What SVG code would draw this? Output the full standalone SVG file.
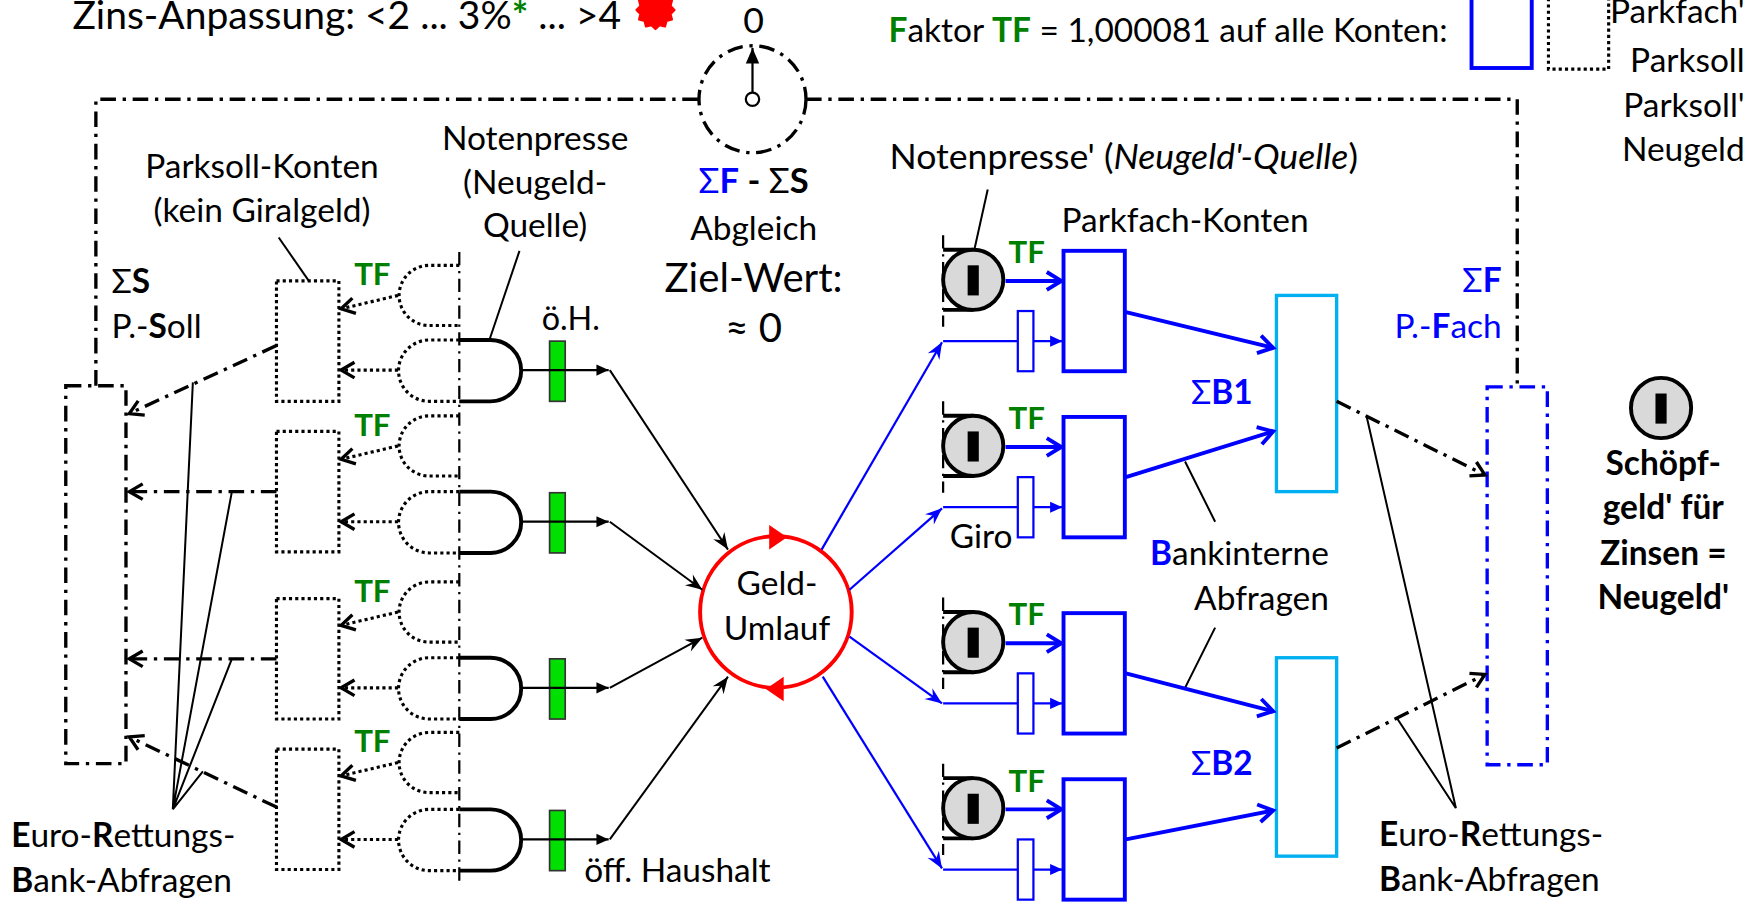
<svg xmlns="http://www.w3.org/2000/svg" width="1748" height="907" viewBox="0 0 1748 907">
<style>
text{font-family:Lato,"Liberation Sans","DejaVu Sans",sans-serif;font-size:30px;fill:#000}
.c{text-anchor:middle}
.e{text-anchor:end}
.b{font-weight:bold}
.g{fill:#008000;font-weight:bold}
.tf{fill:#008000;font-weight:bold;font-size:28px;text-anchor:middle}
.bl{fill:#0000ff}
.dd{fill:none;stroke:#000;stroke-width:3;stroke-dasharray:14 6 3 6}
.ddb{fill:none;stroke:#0000ff;stroke-width:3;stroke-dasharray:14 6 3 6}
.dv{fill:none;stroke:#000;stroke-width:2;stroke-dasharray:12 5 2 5}
.dot{fill:none;stroke:#000;stroke-width:2.8;stroke-dasharray:2.8 2.8}
.sd{fill:none;stroke:#000;stroke-width:3.5}
.thin{fill:none;stroke:#000;stroke-width:1.8}
.bthin{fill:none;stroke:#0000ff;stroke-width:2}
.bthick{fill:none;stroke:#0000ff;stroke-width:3.5}
.coin{fill:#d9d9d9;stroke:#000;stroke-width:3.5}
.grn{fill:#00e000;stroke:#333;stroke-width:1.5}
.pf{fill:#fff;stroke:#0000ff;stroke-width:3.5}
.nr{fill:#fff;stroke:#0000ff;stroke-width:2}
.sb{fill:#fff;stroke:#00b0f0;stroke-width:3}
</style>
<defs>
<marker id="vk" markerUnits="userSpaceOnUse" orient="auto" overflow="visible" markerWidth="1" markerHeight="1"><path d="M-12,-7 L0,0 L-12,7" fill="none" stroke="#000" stroke-width="3"/></marker>
<marker id="vb" markerUnits="userSpaceOnUse" orient="auto" overflow="visible" markerWidth="1" markerHeight="1"><path d="M-13,-8 L0,0 L-13,8" fill="none" stroke="#0000ff" stroke-width="3.5"/></marker>
<marker id="ab" markerUnits="userSpaceOnUse" orient="auto" overflow="visible" markerWidth="1" markerHeight="1"><path d="M-15,-6 L0,0 L-15,6 L-10,0 z" fill="#0000ff"/></marker>
<marker id="ak" markerUnits="userSpaceOnUse" orient="auto" overflow="visible" markerWidth="1" markerHeight="1"><path d="M-15,-6 L0,0 L-15,6 L-10,0 z" fill="#000"/></marker>
<marker id="tk" markerUnits="userSpaceOnUse" orient="auto" overflow="visible" markerWidth="1" markerHeight="1"><path d="M-11,-5 L0,0 L-11,5 z" fill="#000"/></marker>
<marker id="tb" markerUnits="userSpaceOnUse" orient="auto" overflow="visible" markerWidth="1" markerHeight="1"><path d="M-11,-5 L0,0 L-11,5 z" fill="#0000ff"/></marker>
<marker id="tg" markerUnits="userSpaceOnUse" orient="auto" overflow="visible" markerWidth="1" markerHeight="1"><path d="M-14,-6 L0,0 L-14,6 z" fill="#000"/></marker>
</defs>
<rect width="1748" height="907" fill="#fff"/>
<g transform="scale(1.1148)">

<g id="header">
<text x="65" y="26" style="font-size:35px">Zins-Anpassung: &lt;2 ... 3%<tspan class="g">*</tspan> ... &gt;4</text>
<polygon transform="translate(588,9)" fill="#ff0000" stroke="#ff0000" stroke-width="2" stroke-linejoin="round" points="17,0 13.5,3.6 14.7,8.5 9.8,9.8 8.5,14.7 3.6,13.5 0,17 -3.6,13.5 -8.5,14.7 -9.8,9.8 -14.7,8.5 -13.5,3.6 -17,0 -13.5,-3.6 -14.7,-8.5 -9.8,-9.8 -8.5,-14.7 -3.6,-13.5 0,-17 3.6,-13.5 8.5,-14.7 9.8,-9.8 14.7,-8.5 13.5,-3.6"/>
<text x="797" y="38"><tspan class="g">F</tspan>aktor <tspan class="g">TF</tspan> = 1,000081 auf alle Konten:</text>
<rect x="1320" y="-10" width="54" height="71" fill="none" stroke="#0000ff" stroke-width="3.5"/>
<rect x="1389" y="-10" width="54" height="72" class="dot"/>
<text class="e" x="1565" y="21">Parkfach'</text>
<text class="e" x="1565" y="65">Parksoll</text>
<text class="e" x="1565" y="105">Parksoll'</text>
<text class="e" x="1565" y="144">Neugeld</text>
</g>

<g id="gauge">
<circle cx="675" cy="89" r="48" class="dd"/>
<circle cx="675" cy="89" r="6" fill="none" stroke="#000" stroke-width="2"/>
<line x1="675" y1="83" x2="675" y2="43" stroke="#000" stroke-width="2" marker-end="url(#tg)"/>
<text class="c" x="676" y="30" style="font-size:32px">0</text>
<text class="c" x="676" y="173" style="font-size:31px"><tspan class="bl">Σ<tspan class="b">F</tspan></tspan><tspan class="b"> - </tspan>Σ<tspan class="b">S</tspan></text>
<text class="c" x="676" y="215">Abgleich</text>
<text class="c" x="676" y="262" style="font-size:36px">Ziel-Wert:</text>
<text class="c" x="676" y="307" style="font-size:36px">≈ 0</text>
</g>

<g id="frame">
<path class="dd" d="M86,346 V89 H627 M723,89 H1361 V347"/>
</g>

<g id="sum-soll">
<rect class="dd" x="59" y="346" width="54" height="339"/>
<text x="100" y="263">Σ<tspan class="b">S</tspan></text>
<text x="100" y="303">P.-<tspan class="b">S</tspan>oll</text>
</g>

<g id="sum-fach">
<rect class="ddb" x="1334" y="347" width="54" height="339"/>
<text class="e bl" x="1347" y="262">Σ<tspan class="b">F</tspan></text>
<text class="e bl" x="1347" y="303">P.-<tspan class="b">F</tspan>ach</text>
</g>

<g id="labels-left">
<text class="c" x="235" y="160">Parksoll-Konten</text>
<text class="c" x="235" y="199">(kein Giralgeld)</text>
<text class="c" x="480" y="135">Notenpresse</text>
<text class="c" x="480" y="174">(Neugeld-</text>
<text class="c" x="480" y="213">Quelle)</text>
<text class="c" x="512" y="296" style="font-size:29px">ö.H.</text>
<text x="524" y="791">öff. Haushalt</text>
<text x="10" y="760"><tspan class="b">E</tspan>uro-<tspan class="b">R</tspan>ettungs-</text>
<text x="10" y="800"><tspan class="b">B</tspan>ank-Abfragen</text>
</g>

<line class="dv" x1="412" y1="226" x2="412" y2="792"/>

<g id="soll-1">
<rect class="dot" x="248" y="252" width="56" height="108"/>
<path class="dot" d="M412,238 H385 A27,27 0 0 0 385,292 H412"/>
<path class="dot" d="M412,305 H385 A27.5,27.5 0 0 0 385,360 H412"/>
<path class="sd" d="M412,305 H440 A27.5,27.5 0 0 1 440,360 H412"/>
<text class="tf" x="334" y="256">TF</text>
<rect class="grn" x="493" y="306" width="14" height="54"/>
</g>
<g id="soll-2">
<rect class="dot" x="248" y="387" width="56" height="108"/>
<path class="dot" d="M412,373 H385 A27,27 0 0 0 385,427 H412"/>
<path class="dot" d="M412,441 H385 A27.5,27.5 0 0 0 385,496 H412"/>
<path class="sd" d="M412,441 H440 A27.5,27.5 0 0 1 440,496 H412"/>
<text class="tf" x="334" y="391">TF</text>
<rect class="grn" x="493" y="442" width="14" height="54"/>
</g>
<g id="soll-3">
<rect class="dot" x="248" y="537" width="56" height="108"/>
<path class="dot" d="M412,522 H385 A27,27 0 0 0 385,576 H412"/>
<path class="dot" d="M412,590 H385 A27.5,27.5 0 0 0 385,645 H412"/>
<path class="sd" d="M412,590 H440 A27.5,27.5 0 0 1 440,645 H412"/>
<text class="tf" x="334" y="540">TF</text>
<rect class="grn" x="493" y="591" width="14" height="54"/>
</g>
<g id="soll-4">
<rect class="dot" x="248" y="672" width="56" height="108"/>
<path class="dot" d="M412,657 H385 A27,27 0 0 0 385,711 H412"/>
<path class="dot" d="M412,726 H385 A27.5,27.5 0 0 0 385,781 H412"/>
<path class="sd" d="M412,726 H440 A27.5,27.5 0 0 1 440,781 H412"/>
<text class="tf" x="334" y="675">TF</text>
<rect class="grn" x="493" y="727" width="14" height="54"/>
</g>

<g id="geld-umlauf">
<circle cx="696" cy="549" r="68" fill="#fff" stroke="#ff0000" stroke-width="3.5"/>
<polygon points="690,471 706,482 690,493" fill="#ff0000"/>
<polygon points="703,607 687,618 703,629" fill="#ff0000"/>
<text class="c" x="697" y="534">Geld-</text>
<text class="c" x="697" y="574">Umlauf</text>
</g>

<g id="fach-1">
<line class="dv" x1="846" y1="211" x2="846" y2="293"/>
<path class="sd" d="M846,224 H873 M846,278 H873"/>
<circle class="coin" cx="873" cy="251" r="27"/>
<rect x="868" y="238" width="10" height="27" fill="#000"/>
<text class="tf" x="921" y="236">TF</text>
<rect class="pf" x="954" y="225" width="55" height="108"/>
</g>
<g id="fach-2">
<line class="dv" x1="846" y1="360" x2="846" y2="442"/>
<path class="sd" d="M846,373 H873 M846,427 H873"/>
<circle class="coin" cx="873" cy="400" r="27"/>
<rect x="868" y="387" width="10" height="27" fill="#000"/>
<text class="tf" x="921" y="385">TF</text>
<rect class="pf" x="954" y="374" width="55" height="108"/>
<text class="c" x="880" y="492">Giro</text>
</g>
<g id="fach-3">
<line class="dv" x1="846" y1="536" x2="846" y2="618"/>
<path class="sd" d="M846,549 H873 M846,603 H873"/>
<circle class="coin" cx="873" cy="576" r="27"/>
<rect x="868" y="563" width="10" height="27" fill="#000"/>
<text class="tf" x="921" y="561">TF</text>
<rect class="pf" x="954" y="550" width="55" height="108"/>
</g>
<g id="fach-4">
<line class="dv" x1="846" y1="685" x2="846" y2="767"/>
<path class="sd" d="M846,698 H873 M846,752 H873"/>
<circle class="coin" cx="873" cy="725" r="27"/>
<rect x="868" y="712" width="10" height="27" fill="#000"/>
<text class="tf" x="921" y="710">TF</text>
<rect class="pf" x="954" y="699" width="55" height="108"/>
</g>

<g id="sum-b1">
<rect class="sb" x="1145" y="265" width="54" height="176"/>
<text class="c bl" x="1096" y="362">Σ<tspan class="b">B1</tspan></text>
</g>
<g id="sum-b2">
<rect class="sb" x="1145" y="590" width="54" height="178"/>
<text class="c bl" x="1096" y="695">Σ<tspan class="b">B2</tspan></text>
</g>

<g id="labels-right">
<text class="c" x="1008" y="152" style="font-size:32px">Notenpresse' (<tspan font-style="italic">Neugeld'-Quelle</tspan>)</text>
<text class="c" x="1063" y="208">Parkfach-Konten</text>
<text class="e" x="1192" y="507"><tspan class="bl b">B</tspan>ankinterne</text>
<text class="e" x="1192" y="547">Abfragen</text>
<text x="1237" y="759"><tspan class="b">E</tspan>uro-<tspan class="b">R</tspan>ettungs-</text>
<text x="1237" y="799"><tspan class="b">B</tspan>ank-Abfragen</text>
</g>

<g id="schoepfgeld">
<circle class="coin" cx="1490" cy="366" r="27"/>
<rect x="1485" y="353" width="10" height="27" fill="#000"/>
<text class="c b" x="1492" y="426">Schöpf-</text>
<text class="c b" x="1492" y="466">geld' für</text>
<text class="c b" x="1492" y="507">Zinsen =</text>
<text class="c b" x="1492" y="546">Neugeld'</text>
</g>

<g id="connectors">
<path class="thin" d="M250,213 L277,252"/>
<path class="thin" d="M466,225 L439,305"/>
<path class="thin" d="M155,726 L173,343 M155,726 L208,441 M155,726 L208,591 M155,726 L182,692"/>
<path class="thin" d="M886,170 L874,224"/>
<path class="thin" d="M1063,414 L1090,468 M1090,563 L1063,617"/>
<path class="thin" d="M1306,725 L1226,374 M1306,725 L1253,644"/>
<line class="dot" x1="357" y1="265" x2="306" y2="277" marker-end="url(#vk)"/>
<line class="dot" x1="357" y1="332" x2="306" y2="332" marker-end="url(#vk)"/>
<line class="dot" x1="357" y1="400" x2="306" y2="412" marker-end="url(#vk)"/>
<line class="dot" x1="357" y1="468" x2="306" y2="468" marker-end="url(#vk)"/>
<line class="dot" x1="357" y1="549" x2="306" y2="561" marker-end="url(#vk)"/>
<line class="dot" x1="357" y1="617" x2="306" y2="617" marker-end="url(#vk)"/>
<line class="dot" x1="357" y1="684" x2="306" y2="696" marker-end="url(#vk)"/>
<line class="dot" x1="357" y1="753" x2="306" y2="753" marker-end="url(#vk)"/>
<line class="dd" x1="248" y1="310" x2="116" y2="371" marker-end="url(#vk)"/>
<line class="dd" x1="248" y1="441" x2="116" y2="441" marker-end="url(#vk)"/>
<line class="dd" x1="248" y1="591" x2="116" y2="591" marker-end="url(#vk)"/>
<line class="dd" x1="248" y1="724" x2="116" y2="661" marker-end="url(#vk)"/>
<line x1="467" y1="332" x2="546" y2="332" stroke="#000" stroke-width="2" marker-end="url(#tk)"/>
<line x1="467" y1="468" x2="546" y2="468" stroke="#000" stroke-width="2" marker-end="url(#tk)"/>
<line x1="467" y1="617" x2="546" y2="617" stroke="#000" stroke-width="2" marker-end="url(#tk)"/>
<line x1="467" y1="753" x2="546" y2="753" stroke="#000" stroke-width="2" marker-end="url(#tk)"/>
<line class="thin" x1="547" y1="332" x2="653" y2="493" marker-end="url(#ak)"/>
<line class="thin" x1="547" y1="468" x2="630" y2="529" marker-end="url(#ak)"/>
<line class="thin" x1="547" y1="617" x2="630" y2="572" marker-end="url(#ak)"/>
<line class="thin" x1="547" y1="753" x2="653" y2="607" marker-end="url(#ak)"/>
<line class="bthin" x1="737" y1="493" x2="845" y2="307" marker-end="url(#ab)"/>
<line class="bthin" x1="762" y1="529" x2="845" y2="456" marker-end="url(#ab)"/>
<line class="bthin" x1="762" y1="571" x2="845" y2="631" marker-end="url(#ab)"/>
<line class="bthin" x1="738" y1="607" x2="845" y2="779" marker-end="url(#ab)"/>
<line class="bthin" x1="846" y1="306" x2="953" y2="306" marker-end="url(#tb)"/>
<line class="bthin" x1="846" y1="455" x2="953" y2="455" marker-end="url(#tb)"/>
<line class="bthin" x1="846" y1="631" x2="953" y2="631" marker-end="url(#tb)"/>
<line class="bthin" x1="846" y1="780" x2="953" y2="780" marker-end="url(#tb)"/>
<rect class="nr" x="913" y="279" width="14" height="54"/>
<rect class="nr" x="913" y="428" width="14" height="54"/>
<rect class="nr" x="913" y="604" width="14" height="54"/>
<rect class="nr" x="913" y="753" width="14" height="54"/>
<line class="bthick" x1="902" y1="252" x2="952" y2="252" marker-end="url(#vb)"/>
<line class="bthick" x1="902" y1="401" x2="952" y2="401" marker-end="url(#vb)"/>
<line class="bthick" x1="902" y1="577" x2="952" y2="577" marker-end="url(#vb)"/>
<line class="bthick" x1="902" y1="726" x2="952" y2="726" marker-end="url(#vb)"/>
<line class="bthick" x1="1010" y1="280" x2="1142" y2="312" marker-end="url(#vb)"/>
<line class="bthick" x1="1010" y1="428" x2="1142" y2="387" marker-end="url(#vb)"/>
<line class="bthick" x1="1010" y1="604" x2="1142" y2="638" marker-end="url(#vb)"/>
<line class="bthick" x1="1010" y1="753" x2="1142" y2="727" marker-end="url(#vb)"/>
<line class="dd" x1="1199" y1="360" x2="1332" y2="426" marker-end="url(#vk)"/>
<line class="dd" x1="1199" y1="671" x2="1332" y2="605" marker-end="url(#vk)"/>
</g>
</g>
</svg>
